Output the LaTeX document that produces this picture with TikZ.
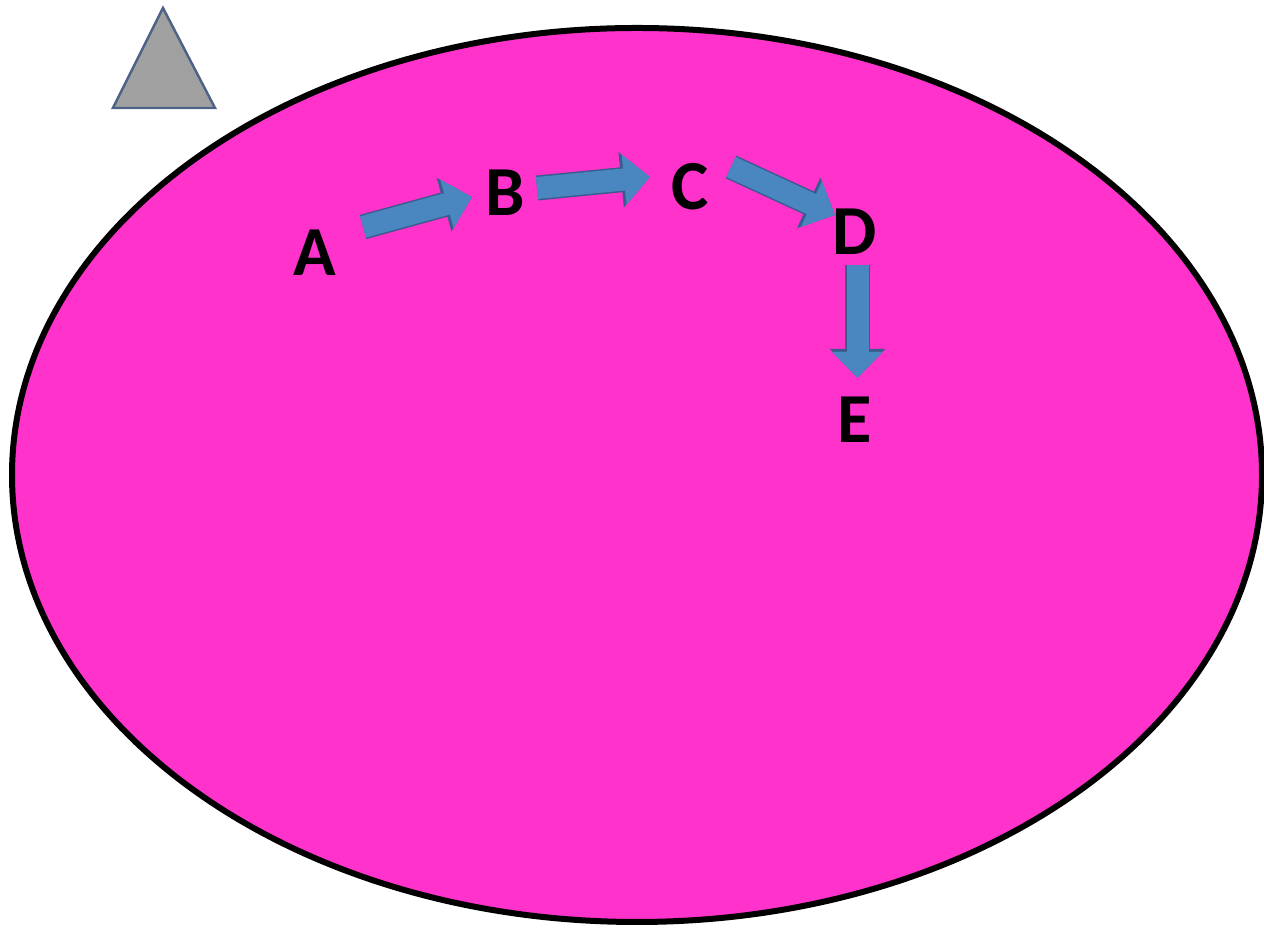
\documentclass[tikz,border=0pt]{standalone}
\usepackage{fontspec}
\setmainfont{Carlito}
\usetikzlibrary{arrows.meta,positioning,calc}
\definecolor{pinkFill}{RGB}{255,51,204}
\definecolor{arrowBlue}{RGB}{74,134,192}
\definecolor{arrowEdge}{RGB}{58,92,140}
\definecolor{triGray}{RGB}{160,160,160}
\definecolor{triEdge}{RGB}{78,98,135}

\begin{document}
\begin{tikzpicture}[
  letter/.style={font=\fontsize{40}{40}\selectfont\bfseries, inner sep=0pt, text=black},
  blockArrow/.style={line width=0.44cm, draw=arrowBlue, -{Triangle[width=0.98cm,length=0.52cm]},
    preaction={draw=arrowEdge, line width=0.5cm, -{Triangle[width=1.08cm,length=0.58cm]}}}
]
  \useasboundingbox[fill=white] (0,0) rectangle (25.28,18.6);

  % triangle in the corner
  \filldraw[fill=triGray, draw=triEdge, line width=1.4pt] (3.26,18.44) -- (2.26,16.44) -- (4.30,16.44) -- cycle;

  % the big ellipse
  \draw[fill=pinkFill, line width=0.12cm] (12.74,9.10) ellipse [x radius=12.50cm, y radius=8.94cm];

  \node[letter] (A) at (6.30,13.54) {A};
  \node[letter] (B) at (10.10,14.74) {B};
  \node[letter] (C) at (13.80,14.86) {C};
  \node[letter] (D) at (17.10,13.96) {D};
  \node[letter] (E) at (17.10,10.20) {E};

  \draw[blockArrow] ([shift={(0.96,0.52)}]A.center) -- ([shift={(-0.66,-0.08)}]B.center);
  \draw[blockArrow] ([shift={(0.64,0.10)}]B.center) -- ([shift={(-0.80,0.20)}]C.center);
  \draw[blockArrow] ([shift={(0.82,0.40)}]C.center) -- ([shift={(-0.40,0.34)}]D.center);
  \draw[blockArrow] ([shift={(0.05,-0.66)}]D.center) -- ([shift={(0.05,0.84)}]E.center);
\end{tikzpicture}
\end{document}
